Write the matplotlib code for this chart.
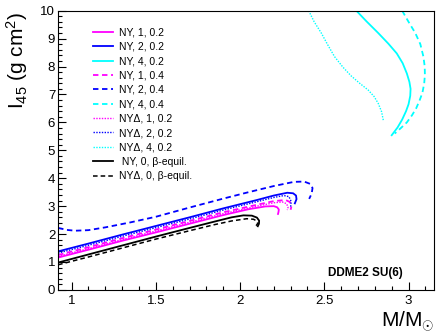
import matplotlib
matplotlib.use("Agg")
from matplotlib import pyplot as plt
from matplotlib.ticker import MultipleLocator

plt.rcParams['font.family'] = ['Liberation Sans', 'DejaVu Sans']
plt.rcParams['mathtext.fontset'] = 'custom'
plt.rcParams['mathtext.rm'] = 'Liberation Sans'
plt.rcParams['mathtext.it'] = 'Liberation Sans:italic'

# mass (M/Msun) and moment of inertia I45
m_ny1_02 = [0.92, 1.1, 1.3, 1.5, 1.7, 1.9, 2.05, 2.15, 2.2, 2.22, 2.23, 2.228, 2.225]
i_ny1_02 = [1.16, 1.44, 1.76, 2.06, 2.37, 2.68, 2.89, 2.99, 3.0, 2.96, 2.88, 2.79, 2.72]

m_ny2_02 = [0.92, 1.1, 1.3, 1.5, 1.7, 1.9, 2.1, 2.2, 2.28, 2.315, 2.332, 2.335, 2.325]
i_ny2_02 = [1.38, 1.66, 1.98, 2.29, 2.6, 2.92, 3.22, 3.38, 3.48, 3.46, 3.38, 3.25, 3.1]

m_ny4_02 = [2.69, 2.75, 2.82, 2.88, 2.93, 2.965, 2.99, 3.005, 3.012, 3.01, 3.0, 2.985, 2.962, 2.935, 2.90]
i_ny4_02 = [10.0, 9.62, 9.2, 8.82, 8.47, 8.12, 7.75, 7.45, 7.2, 6.95, 6.65, 6.4, 6.1, 5.82, 5.54]

m_ny1_04 = [0.92, 1.1, 1.3, 1.5, 1.7, 1.9, 2.1, 2.2, 2.27, 2.295, 2.305, 2.30]
i_ny1_04 = [1.25, 1.53, 1.85, 2.16, 2.47, 2.78, 3.05, 3.18, 3.22, 3.15, 3.0, 2.87]

m_ny2_04 = [0.92, 0.97, 1.02, 1.1, 1.2, 1.35, 1.5, 1.7, 1.9, 2.05, 2.2, 2.32, 2.38, 2.415, 2.43, 2.425, 2.41]
i_ny2_04 = [2.22, 2.15, 2.12, 2.14, 2.24, 2.42, 2.62, 2.95, 3.27, 3.5, 3.72, 3.87, 3.88, 3.8, 3.65, 3.45, 3.26]

m_ny4_04 = [2.962, 3.0, 3.04, 3.07, 3.088, 3.096, 3.097, 3.093, 3.082, 3.065, 3.045, 3.02, 2.99, 2.955, 2.918]
i_ny4_04 = [10.0, 9.6, 9.2, 8.8, 8.36, 8.0, 7.7, 7.4, 7.05, 6.78, 6.5, 6.25, 6.0, 5.8, 5.6]

m_nyd1_02 = [0.92, 1.1, 1.3, 1.5, 1.7, 1.9, 2.1, 2.2, 2.25, 2.275, 2.285, 2.28]
i_nyd1_02 = [1.2, 1.48, 1.8, 2.11, 2.42, 2.73, 3.0, 3.12, 3.15, 3.09, 2.97, 2.86]

m_nyd2_02 = [0.92, 1.1, 1.3, 1.5, 1.7, 1.9, 2.1, 2.2, 2.26, 2.29, 2.303, 2.30]
i_nyd2_02 = [1.32, 1.6, 1.92, 2.23, 2.54, 2.86, 3.16, 3.31, 3.38, 3.34, 3.17, 2.97]

m_nyd4_02 = [2.407, 2.44, 2.482, 2.52, 2.56, 2.61, 2.66, 2.71, 2.76, 2.795, 2.82, 2.84, 2.85]
i_nyd4_02 = [10.0, 9.6, 9.2, 8.78, 8.36, 7.98, 7.66, 7.4, 7.16, 6.93, 6.68, 6.38, 6.08]

m_ny0 = [0.92, 1.1, 1.3, 1.5, 1.7, 1.85, 1.95, 2.02, 2.07, 2.10, 2.113, 2.112, 2.105]
i_ny0 = [0.98, 1.27, 1.59, 1.91, 2.22, 2.45, 2.6, 2.67, 2.66, 2.59, 2.48, 2.37, 2.28]

m_nyd0 = [0.92, 1.1, 1.3, 1.5, 1.7, 1.85, 1.95, 2.04, 2.08, 2.098, 2.105, 2.095]
i_nyd0 = [0.9, 1.18, 1.5, 1.82, 2.12, 2.34, 2.47, 2.55, 2.53, 2.47, 2.38, 2.3]

labels = ['NY, 1, 0.2', 'NY, 2, 0.2', 'NY, 4, 0.2',
          'NY, 1, 0.4', 'NY, 2, 0.4', 'NY, 4, 0.4',
          'NY\u0394, 1, 0.2', 'NY\u0394, 2, 0.2', 'NY\u0394, 4, 0.2',
          ' NY, 0, \u03b2-equil.', 'NY\u0394, 0, \u03b2-equil.']

dashed = (0, (3, 2))
dotted = (0, (1, 1))

fig = plt.figure(figsize=(4.36, 3.34), dpi=100)
ax = fig.add_axes([0.133, 0.132, 0.862, 0.836])

ax.plot(m_ny1_02, i_ny1_02, color='#ff00ff', lw=1.3, label=labels[0])
ax.plot(m_ny2_02, i_ny2_02, color='#0000ff', lw=1.3, label=labels[1])
ax.plot(m_ny4_02, i_ny4_02, color='#00ffff', lw=1.3, label=labels[2])
ax.plot(m_ny1_04, i_ny1_04, color='#ff00ff', lw=1.3, ls=dashed, label=labels[3])
ax.plot(m_ny2_04, i_ny2_04, color='#0000ff', lw=1.3, ls=dashed, label=labels[4])
ax.plot(m_ny4_04, i_ny4_04, color='#00ffff', lw=1.3, ls=dashed, label=labels[5])
ax.plot(m_nyd1_02, i_nyd1_02, color='#ff00ff', lw=1.0, ls=dotted, label=labels[6])
ax.plot(m_nyd2_02, i_nyd2_02, color='#0000ff', lw=1.0, ls=dotted, label=labels[7])
ax.plot(m_nyd4_02, i_nyd4_02, color='#00ffff', lw=1.0, ls=dotted, label=labels[8])
ax.plot(m_ny0, i_ny0, color='black', lw=1.3, label=labels[9])
ax.plot(m_nyd0, i_nyd0, color='black', lw=1.1, ls=dashed, label=labels[10])

ax.set_xlim(0.919, 3.15)
ax.set_ylim(0, 10)

ax.xaxis.set_major_locator(MultipleLocator(0.5))
ax.xaxis.set_minor_locator(MultipleLocator(0.1))
ax.yaxis.set_major_locator(MultipleLocator(1))
ax.yaxis.set_minor_locator(MultipleLocator(0.2))
ax.set_xticks([1, 1.5, 2, 2.5, 3])
ax.set_xticklabels(['1', '1.5', '2', '2.5', '3'])
ax.tick_params(which='both', direction='in', top=False, right=False, labelsize=9.5, width=0.8)
ax.tick_params(which='major', length=6)
ax.tick_params(which='minor', length=3)
ax.tick_params(axis='x', pad=4)
ax.tick_params(axis='y', pad=2)
for s in ax.spines.values():
    s.set_linewidth(0.8)

ax.text(0.918, 0.06, 'DDME2 SU(6)', transform=ax.transAxes, ha='right',
        va='center', fontsize=8.5, fontweight='bold')

fig.text(0.995, 0.021, r'M/M$_{\odot}$', ha='right', va='baseline', fontsize=15)
fig.text(0.04, 0.965, r'I$_{45}$ (g cm$^{2}$)', rotation=90, ha='center', va='top', fontsize=15)

leg = ax.legend(loc='upper left', bbox_to_anchor=(0.083, 0.955), frameon=False,
                fontsize=7.5, handlelength=1.9, handletextpad=0.6, labelspacing=0.42,
                borderaxespad=0)

plt.savefig('out.png', dpi=100)
